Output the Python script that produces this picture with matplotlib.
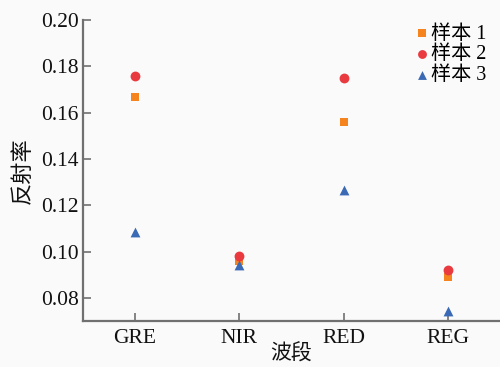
import matplotlib
matplotlib.use("Agg")
import matplotlib.pyplot as plt
import numpy as np

plt.rcParams['font.family'] = ['Liberation Serif', 'Noto Sans CJK SC']

bands = ["GRE", "NIR", "RED", "REG"]
sample1 = [0.1668, 0.0960, 0.1561, 0.0891]
sample2 = [0.1758, 0.0981, 0.1751, 0.0920]
sample3 = [0.1083, 0.0940, 0.1265, 0.0743]
labels = ["样本 1", "样本 2", "样本 3"]

fig = plt.figure(figsize=(5.0, 3.67), dpi=100, facecolor='#fafafa')
ax = fig.add_axes([83/500, 1 - 321/367, 417/500, 301/367])
ax.set_facecolor('#fafafa')

x = np.arange(len(bands))
ax.scatter(x, sample1, marker='s', s=36, color='#f5841f', label=labels[0], zorder=3, linewidths=0)
ax.scatter(x, sample2, marker='o', s=50, color='#e83a3f', label=labels[1], zorder=3, linewidths=0)
ax.scatter(x, sample3, marker='^', s=50, color='#3a69b5', label=labels[2], zorder=3, linewidths=0)

ax.set_xlim(-0.5, 3.5)
ax.set_ylim(0.07, 0.20)
yt = [0.08, 0.10, 0.12, 0.14, 0.16, 0.18, 0.20]
ax.set_yticks(yt)
ax.set_yticklabels([f"{v:.2f}" for v in yt])
ax.set_xticks(x)
ax.set_xticklabels(bands)

for s in ['top', 'right']:
    ax.spines[s].set_visible(False)
for s in ['left', 'bottom']:
    ax.spines[s].set_color('#707070')
    ax.spines[s].set_linewidth(1.6)

ax.tick_params(direction='in', length=6, width=1.2, color='#707070',
               labelsize=15.5, labelcolor='#111111', pad=6)
ax.tick_params(axis='y', pad=3)

ax.set_xlabel("波段", fontsize=15, labelpad=-3, color='#111111')
ax.set_ylabel("反射率", fontsize=16, labelpad=5, color='#111111')

leg = ax.legend(loc='upper right', bbox_to_anchor=(0.997, 1.025), frameon=False,
                fontsize=14.5, handletextpad=-0.1, labelspacing=0.08,
                handlelength=1.1, borderaxespad=0.2, markerscale=0.9)

fig.savefig("out.png", dpi=100, facecolor=fig.get_facecolor())
